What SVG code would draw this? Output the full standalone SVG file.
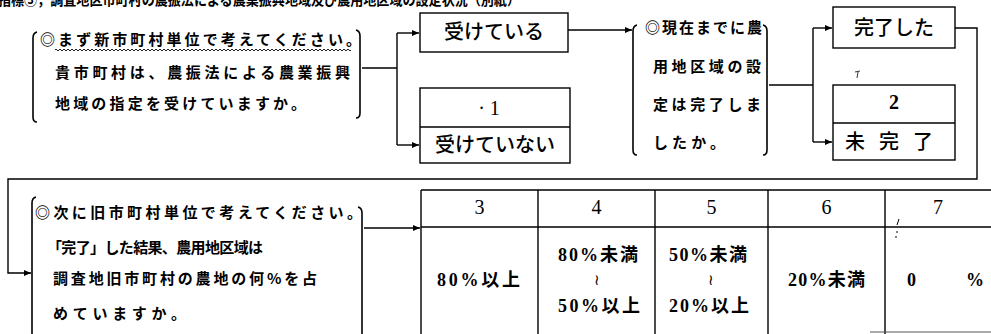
<svg xmlns="http://www.w3.org/2000/svg" width="991" height="334" viewBox="0 0 991 334">
<style>
.q{font-family:"Noto Sans CJK JP","Noto Sans CJK SC",sans-serif;font-size:15px;font-weight:bold;fill:#000}
.l{font-family:"Noto Sans CJK JP","Noto Sans CJK SC",sans-serif;font-size:20px;font-weight:500;fill:#000;text-anchor:middle}
.n{font-family:"Liberation Serif","Noto Sans CJK JP",serif;font-size:20px;fill:#000;text-anchor:middle}
.v{font-family:"Liberation Serif","Noto Sans CJK JP",serif;font-size:18px;font-weight:bold;fill:#000}
.w{font-family:"DejaVu Serif",serif;font-size:15px;fill:#000;text-anchor:middle}
.s{fill:none;stroke:#000;stroke-width:1.4}
.k{fill:none;stroke:#000;stroke-width:1.6}
</style>
<defs>
<marker id="ah" markerWidth="8" markerHeight="8" refX="7" refY="4" orient="auto" markerUnits="userSpaceOnUse"><path d="M0,1 L7,4 L0,7 z" fill="#000"/></marker>
<pattern id="wave" x="55" y="48" width="4" height="4" patternUnits="userSpaceOnUse"><path d="M0,2 Q1,0.2 2,2 T4,2" fill="none" stroke="#000" stroke-width="0.9"/></pattern>
</defs>
<rect width="991" height="334" fill="#fff"/>
<text class="q" x="-2" y="5" textLength="522" lengthAdjust="spacingAndGlyphs">指標③，調査地区市町村の農振法による農業振興地域及び農用地区域の設定状況（別紙）</text>

<g id="q1">
<path class="k" d="M37,32 Q33,33 33,38 L33,117 Q33,122 37,122"/>
<path class="k" d="M356,30 Q360,31 360,36 L360,113 Q360,118 356,118"/>
<text class="q" x="40" y="44.5" textLength="321">◎まず新市町村単位で考えてください。</text>
<rect x="55" y="48" width="296" height="4" fill="url(#wave)"/>
<text class="q" x="55" y="77.5" textLength="295">貴市町村は、農振法による農業振興</text>
<text class="q" x="55" y="108.5" textLength="251">地域の指定を受けていますか。</text>
</g>

<g id="yes1">
<rect class="s" x="420" y="13" width="148" height="39"/>
<text class="l" x="494" y="39">受けている</text>
</g>

<g id="no1">
<rect class="s" x="420" y="88" width="150" height="75"/>
<path class="s" d="M420,127 H570"/>
<text class="n" x="489" y="115">· 1</text>
<text class="l" x="495" y="152">受けていない</text>
</g>

<g id="q2">
<path class="k" d="M637,25 Q633,26 633,31 L633,150 Q633,155 637,155"/>
<path class="k" d="M763,25 Q767,26 767,31 L767,150 Q767,155 763,155"/>
<text class="q" x="645" y="32.5" textLength="117">◎現在までに農</text>
<text class="q" x="653" y="71.5" textLength="108">用地区域の設</text>
<text class="q" x="653" y="109.5" textLength="108">定は完了しま</text>
<text class="q" x="653" y="147.5" textLength="72">したか。</text>
</g>

<g id="done">
<rect class="s" x="833" y="7" width="122" height="41"/>
<text class="l" x="894" y="35">完了した</text>
</g>

<g id="notdone">
<rect class="s" x="833" y="85" width="122" height="75"/>
<path class="s" d="M833,123 H955"/>
<text class="n" x="894" y="109" font-weight="bold">2</text>
<text class="l" x="845" y="149" text-anchor="start" style="text-anchor:start" textLength="88">未 完 了</text>
<path d="M855,72 L860,71 M858,72 L857,78" stroke="#000" stroke-width="0.8" fill="none"/>
</g>

<g id="q3">
<path class="k" d="M36,197 Q32,198 32,203 L32,334"/>
<path class="k" d="M358,207 Q362,208 362,213 L362,334"/>
<text class="q" x="35" y="217.5" textLength="327">◎次に旧市町村単位で考えてください。</text>
<text class="q" x="47" y="252.5" textLength="216">「完了」した結果、農用地区域は</text>
<text class="q" x="53" y="283.5" textLength="264">調査地旧市町村の農地の何%を占</text>
<text class="q" x="53" y="318.5" textLength="133">めていますか。</text>
</g>

<g id="table">
<path class="s" d="M421,190 H991 M421,227 H991 M421,190 V334 M538,190 V334 M655,190 V334 M768,190 V334 M885,190 V334"/>
<path d="M870,332 H991" stroke="#555" stroke-width="1.2"/>
<text class="n" x="479.5" y="214">3</text>
<text class="n" x="596.5" y="214">4</text>
<text class="n" x="711.5" y="214">5</text>
<text class="n" x="826.5" y="214">6</text>
<text class="n" x="938" y="214">7</text>
<text class="v" x="437" y="286" textLength="83">80%以上</text>
<text class="v" x="558" y="261" textLength="80">80%未満</text>
<text class="w" x="597" y="285">≀</text>
<text class="v" x="558" y="312" textLength="82">50%以上</text>
<text class="v" x="669" y="261" textLength="78">50%未満</text>
<text class="w" x="711" y="285">≀</text>
<text class="v" x="669" y="312" textLength="80">20%以上</text>
<text class="v" x="788" y="286" textLength="77">20%未満</text>
<text class="v" x="907" y="286">0</text>
<text class="v" x="966" y="286">%</text>
<path d="M897,225 L899,219 M897,231 L897,233 M896,236 L896,238" stroke="#000" stroke-width="1" fill="none"/>
</g>

<g id="connectors">
<path class="s" d="M362,68 H397 M397,33 V145"/>
<path class="s" d="M397,33 H419" marker-end="url(#ah)"/>
<path class="s" d="M397,145 H419" marker-end="url(#ah)"/>
<path class="s" d="M568,30 H632" marker-end="url(#ah)"/>
<path class="s" d="M769,85 H813 M813,28 V142"/>
<path class="s" d="M813,28 H832" marker-end="url(#ah)"/>
<path class="s" d="M813,142 H832" marker-end="url(#ah)"/>
<path class="s" d="M955,28 H977 V179 H8 V273 H31" marker-end="url(#ah)"/>
<path class="s" d="M364,228 H420" marker-end="url(#ah)"/>
</g>
</svg>
